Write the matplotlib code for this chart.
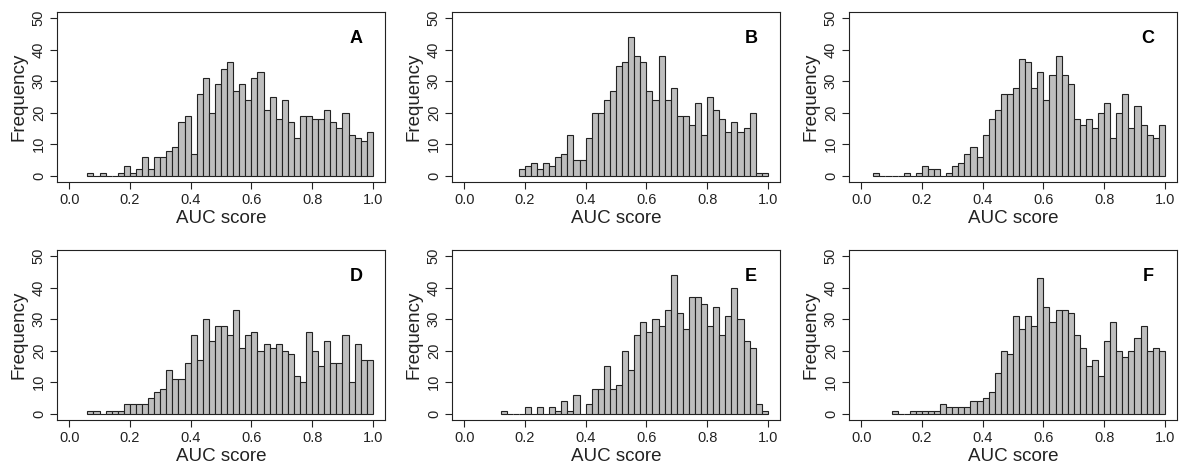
import numpy as np
import matplotlib.pyplot as plt

plt.rcParams['font.family'] = ['Liberation Sans', 'DejaVu Sans']

# bin edges: 50 bins of width 0.02 on [0, 1]
edges = np.round(np.arange(0, 1.0001, 0.02), 2)

counts_a = [0, 0, 0, 1, 0, 1, 0, 0, 1, 3, 1, 2, 6, 2, 6, 6, 8, 9, 17, 19,
            7, 26, 31, 20, 29, 34, 36, 27, 29, 24, 31, 33, 21, 25, 18, 24, 17, 12, 19, 19,
            18, 18, 21, 17, 15, 20, 13, 12, 11, 14]
counts_b = [0, 0, 0, 0, 0, 0, 0, 0, 0, 2, 3, 4, 2, 4, 3, 6, 7, 13, 5, 5,
            12, 20, 20, 24, 27, 35, 36, 44, 38, 36, 27, 24, 38, 24, 28, 19, 19, 16, 23, 13,
            25, 21, 18, 14, 17, 14, 15, 20, 1, 1]
counts_c = [0, 0, 1, 0, 0, 0, 0, 1, 0, 1, 3, 2, 2, 0, 1, 3, 4, 7, 9, 6,
            13, 18, 21, 26, 26, 28, 37, 36, 28, 33, 24, 32, 38, 32, 29, 18, 16, 18, 15, 20,
            23, 12, 20, 26, 15, 22, 16, 13, 12, 16]
counts_d = [0, 0, 0, 1, 1, 0, 1, 1, 1, 3, 3, 3, 3, 5, 7, 8, 14, 11, 11, 16,
            25, 17, 30, 23, 28, 28, 25, 33, 21, 25, 26, 20, 22, 21, 22, 20, 19, 12, 10, 26,
            20, 15, 23, 16, 16, 25, 10, 22, 17, 17]
counts_e = [0, 0, 0, 0, 0, 0, 1, 0, 0, 0, 2, 0, 2, 0, 2, 1, 4, 1, 6, 0,
            3, 8, 8, 15, 8, 9, 20, 14, 25, 29, 26, 30, 28, 33, 44, 32, 27, 37, 37, 35,
            28, 34, 25, 31, 40, 30, 23, 21, 3, 1]
counts_f = [0, 0, 0, 0, 0, 1, 0, 0, 1, 1, 1, 1, 1, 3, 2, 2, 2, 2, 4, 4,
            5, 7, 13, 20, 19, 31, 27, 31, 28, 43, 34, 29, 33, 33, 32, 25, 21, 15, 17, 12,
            23, 29, 20, 18, 20, 24, 28, 20, 21, 20]

panels = ['A', 'B', 'C', 'D', 'E', 'F']
all_counts = [counts_a, counts_b, counts_c, counts_d, counts_e, counts_f]

W, H = 1183, 469
fig = plt.figure(figsize=(W / 100, H / 100), dpi=100)

lefts = [57, 452, 849]
bottoms = [287, 49]
aw, ah = 328, 170

for k in range(6):
    r, c = divmod(k, 3)
    ax = fig.add_axes([lefts[c] / W, bottoms[r] / H, aw / W, ah / H])
    counts = np.array(all_counts[k])
    first = np.nonzero(counts)[0][0]
    ax.bar(edges[first:-1], counts[first:], width=0.02, align='edge',
           color='#BEBEBE', edgecolor='#222222', linewidth=0.8)
    ax.set_xlim(-0.04, 1.04)
    ax.set_ylim(-2, 52)
    ax.set_xticks([0.0, 0.2, 0.4, 0.6, 0.8, 1.0])
    ax.set_xticklabels(['0.0', '0.2', '0.4', '0.6', '0.8', '1.0'])
    ax.set_yticks([0, 10, 20, 30, 40, 50])
    ax.set_yticklabels(['0', '10', '20', '30', '40', '50'], rotation=90, va='center')
    ax.tick_params(direction='out', length=5, width=0.8, labelsize=10.5,
                   colors='#222222', pad=3)
    for s in ax.spines.values():
        s.set_linewidth(0.8)
        s.set_color('#222222')
    ax.set_xlabel('AUC score', fontsize=13.5, labelpad=2, color='#222222')
    ax.set_ylabel('Frequency', fontsize=13.5, labelpad=3, color='#222222')
    ax.text(0.945, 43.7, panels[k], fontsize=13, fontweight='bold',
            ha='center', va='center')

fig.savefig('out.png', dpi=100)
